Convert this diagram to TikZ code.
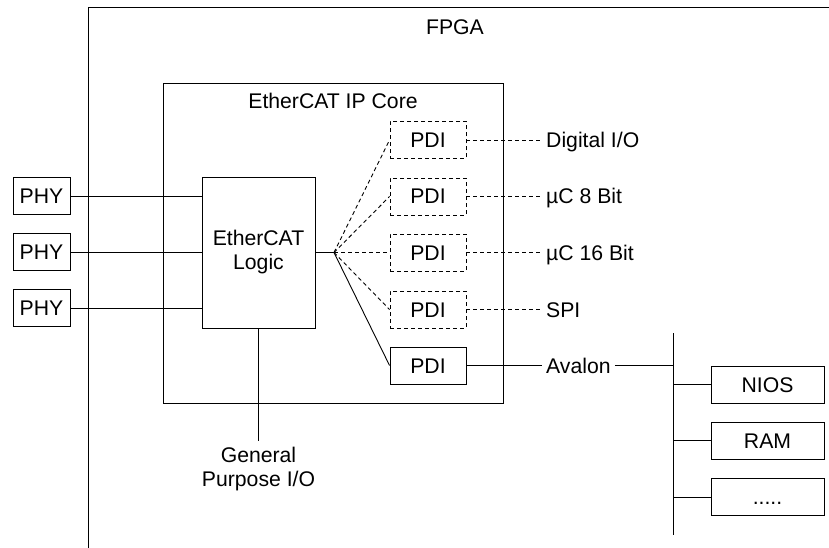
\documentclass[tikz,border=0pt]{standalone}
\usepackage{fontspec}
\setmainfont{Liberation Sans}
\usetikzlibrary{calc}
\tikzstyle{trait}           =[line width=0.9pt, line cap=butt]
\tikzstyle{pointille}       =[dash pattern=on 4pt off 3pt]
\tikzstyle{boite}           =[draw, trait, inner sep=0pt, minimum height=37pt, text height=15pt, text depth=0pt]
\tikzstyle{etiquette}       =[inner sep=4pt, anchor=west, text height=15pt, text depth=0pt]

\begin{document}
\begin{tikzpicture}[x=1pt,y=-1pt,every node/.style={font=\fontsize{21.2}{24}\selectfont}]
\useasboundingbox (0,0) rectangle (829,548);

%%%%%%%%%%%%%%%%%%%%%%%%
%Paramètres de la figure
%%%%%%%%%%%%%%%%%%%%%%%%

\def \xpdi {428}; %abscisse des PDI
\def \xsortie {542}; %début des étiquettes de sortie
\def \xbus {673}; %abscisse du bus Avalon

%le FPGA (ouvert à droite et en bas)
\draw [trait] (829,7) -- (88,7) -- (88,548);
\node (fpga) at (455,27) {FPGA};

%le coeur IP
\node [boite, minimum width=340pt, minimum height=320pt] (coeur) at (333,243) {};
\node (titre) at (333,101) {EtherCAT IP Core};

%la logique EtherCAT
\node [draw, trait, minimum width=113pt, minimum height=151pt, align=center] (logique) at (258.5,252.5) {EtherCAT\\Logic};

%les PHY
\foreach \i/\y in {1/196,2/252,3/308}
{
\node [boite, minimum width=57pt] (phy\i) at (41.5,\y) {PHY};
\draw [trait] (phy\i) -- (phy\i -| logique.west);
}

%l'éventail vers les PDI
\coordinate (eventail) at (334,252.5);
\draw [trait] (logique.east) -- (eventail);

\foreach \i/\y/\nom/\sty in {1/140/{Digital I/O}/pointille,2/196.5/{µC 8 Bit}/pointille,3/252.5/{µC 16 Bit}/pointille,4/309.5/SPI/pointille,5/365.5/Avalon/trait}
{
\node [boite, \sty, minimum width=76pt] (pdi\i) at (\xpdi,\y) {PDI};
\node [etiquette] (sortie\i) at (\xsortie,\y) {\nom};
\draw [trait, \sty] (eventail) -- (pdi\i.west);
\draw [trait, \sty] (pdi\i) -- (sortie\i);
}

%entrées-sorties générales
\node [align=center, anchor=north, inner ysep=6pt] (gpio) at (258.5,441) {General\\Purpose I/O};
\draw [trait] (logique) -- (gpio);

%le bus Avalon
\coordinate (bushaut) at (\xbus,333);
\coordinate (busbas) at (\xbus,535);
\draw [trait] (bushaut) -- (busbas);
\draw [trait] (sortie5) -- (sortie5 -| bushaut);

\foreach \i/\y/\nom in {1/384.5/NIOS,2/440.5/RAM,3/497/{.....}}
{
\node [boite, minimum width=113pt] (bloc\i) at (767.5,\y) {\nom};
\draw [trait] (bloc\i) -- (bloc\i -| bushaut);
}

\end{tikzpicture}
\end{document}
